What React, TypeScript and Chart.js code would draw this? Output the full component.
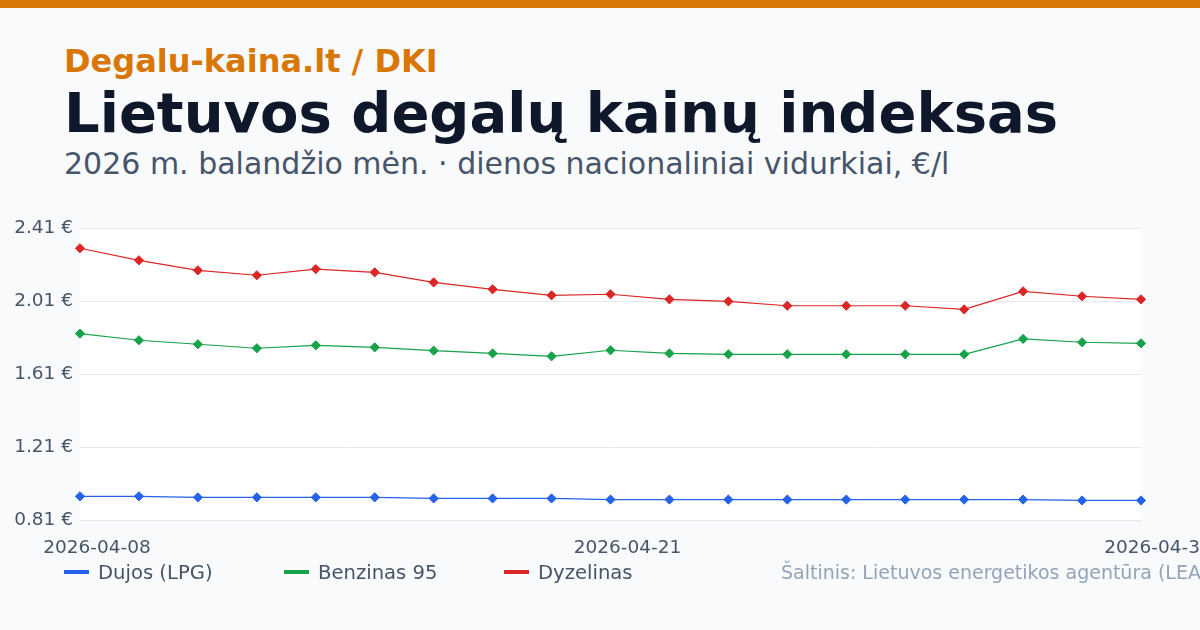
import { useEffect, useRef } from 'react';
import { Chart, registerables, Plugin } from 'chart.js';

Chart.register(...registerables);

const dates = [
  '2026-04-08', '2026-04-09', '2026-04-10', '2026-04-13', '2026-04-14',
  '2026-04-15', '2026-04-16', '2026-04-17', '2026-04-20', '2026-04-21',
  '2026-04-22', '2026-04-23', '2026-04-24', '2026-04-25', '2026-04-26',
  '2026-04-27', '2026-04-28', '2026-04-29', '2026-04-30'
];
const lpg = [
  0.940, 0.940, 0.934, 0.934, 0.934, 0.934, 0.928, 0.928, 0.928, 0.922,
  0.922, 0.922, 0.922, 0.922, 0.922, 0.922, 0.922, 0.917, 0.917
];
const petrol95 = [
  1.831, 1.795, 1.773, 1.751, 1.767, 1.756, 1.738, 1.723, 1.707, 1.740,
  1.723, 1.718, 1.718, 1.718, 1.718, 1.718, 1.802, 1.784, 1.778
];
const diesel = [
  2.299, 2.233, 2.178, 2.151, 2.185, 2.167, 2.112, 2.074, 2.041, 2.047,
  2.019, 2.008, 1.984, 1.984, 1.984, 1.964, 2.063, 2.036, 2.019
];
const shownTicks = [0, 9, 18];

const seriesNames = ['Dujos (LPG)', 'Benzinas 95', 'Dyzelinas'];
const seriesColors = ['#2563eb', '#16a34a', '#dc2626'];

const FONT = '"DejaVu Sans", sans-serif';

const plotBackground: Plugin<'line'> = {
  id: 'plotBackground',
  beforeDraw(chart) {
    const { ctx, chartArea } = chart;
    ctx.save();
    ctx.fillStyle = '#ffffff';
    ctx.fillRect(chartArea.left, chartArea.top, chartArea.right - chartArea.left, chartArea.bottom - chartArea.top);
    ctx.restore();
  }
};

function PriceChart() {
  const canvasRef = useRef<HTMLCanvasElement>(null);

  useEffect(() => {
    const canvas = canvasRef.current;
    if (!canvas) return;

    const values = [lpg, petrol95, diesel];
    const chart = new Chart(canvas, {
      type: 'line',
      data: {
        labels: dates,
        datasets: values.map((data, i) => ({
          label: seriesNames[i],
          data,
          borderColor: seriesColors[i],
          backgroundColor: seriesColors[i],
          borderWidth: 1.2,
          pointStyle: 'rectRot',
          pointRadius: 4.6,
          pointBorderWidth: 1,
          tension: 0
        }))
      },
      options: {
        animation: false,
        responsive: true,
        maintainAspectRatio: false,
        layout: { padding: { top: 28, right: 59, bottom: 0, left: 0 } },
        plugins: {
          legend: { display: false },
          tooltip: { enabled: false }
        },
        scales: {
          x: {
            grid: { display: false },
            border: { display: false },
            afterFit: (scale) => {
              scale.height = 40;
              scale.paddingRight = 0;
            },
            ticks: {
              autoSkip: false,
              maxRotation: 0,
              labelOffset: 17,
              padding: 9,
              color: '#475569',
              font: { family: FONT, size: 18.5 },
              callback: (_v, i) => (shownTicks.includes(i) ? dates[i] : '')
            }
          },
          y: {
            min: 0.81,
            max: 2.41,
            afterFit: (scale) => {
              scale.width = 80;
            },
            grid: { color: '#e2e8f0', drawTicks: false },
            border: { display: false },
            ticks: {
              stepSize: 0.4,
              padding: 7,
              color: '#475569',
              font: { family: FONT, size: 18.5 },
              callback: (v) => `${Number(v).toFixed(2)} €`
            }
          }
        }
      },
      plugins: [plotBackground]
    });

    return () => chart.destroy();
  }, []);

  return <canvas ref={canvasRef} />;
}

export default function App() {
  return (
    <div
      style={{
        position: 'fixed',
        left: 0,
        top: 0,
        width: 1200,
        height: 630,
        overflow: 'hidden',
        background: '#f8fafc',
        fontFamily: FONT
      }}
    >
      <div style={{ position: 'absolute', left: 0, top: 0, width: 1200, height: 8, background: '#d97706' }} />
      <div
        style={{
          position: 'absolute', left: 64, top: 45, fontSize: 32, lineHeight: '32px',
          fontWeight: 'bold', color: '#d97706', whiteSpace: 'nowrap'
        }}
      >
        Degalu-kaina.lt / DKI
      </div>
      <div
        style={{
          position: 'absolute', left: 64, top: 85, fontSize: 56, lineHeight: '56px',
          fontWeight: 'bold', color: '#0f172a', whiteSpace: 'nowrap'
        }}
      >
        Lietuvos degalų kainų indeksas
      </div>
      <div
        style={{
          position: 'absolute', left: 64, top: 149, fontSize: 30, lineHeight: '30px',
          color: '#475569', whiteSpace: 'nowrap'
        }}
      >
        2026 m. balandžio mėn. · dienos nacionaliniai vidurkiai, €/l
      </div>
      <div style={{ position: 'absolute', left: 0, top: 200, width: 1200, height: 360 }}>
        <PriceChart />
      </div>
      <div
        style={{
          position: 'absolute', left: 64, top: 558, height: 28, display: 'flex',
          alignItems: 'center', whiteSpace: 'nowrap'
        }}
      >
        {seriesNames.map((name, i) => (
          <div key={name} style={{ width: [220, 220, 277][i], display: 'flex', alignItems: 'center' }}>
            <span style={{ width: 25, height: 4, background: seriesColors[i], marginRight: 9 }} />
            <span style={{ fontSize: 19.6, color: '#475569' }}>{name}</span>
          </div>
        ))}
        <span style={{ fontSize: 19, color: '#94a3b8' }}>
          Šaltinis: Lietuvos energetikos agentūra (LEA)
        </span>
      </div>
    </div>
  );
}
